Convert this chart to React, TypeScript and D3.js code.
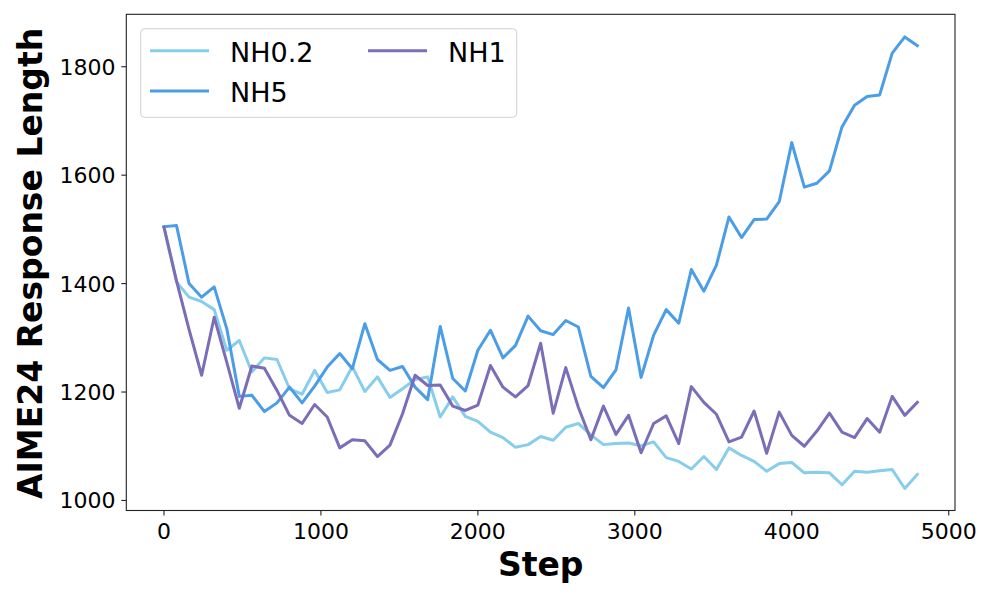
import React from "react";
import * as d3 from "d3";

const steps = [
  0, 80, 160, 240, 320, 400, 480, 560, 640, 720, 800, 880, 960, 1040, 1120, 1200,
  1280, 1360, 1440, 1520, 1600, 1680, 1760, 1840, 1920, 2000, 2080, 2160, 2240, 2320,
  2400, 2480, 2560, 2640, 2720, 2800, 2880, 2960, 3040, 3120, 3200, 3280, 3360, 3440,
  3520, 3600, 3680, 3760, 3840, 3920, 4000, 4080, 4160, 4240, 4320, 4400, 4480, 4560,
  4640, 4720, 4800,
];

const nh02 = [
  1504, 1403, 1375, 1367, 1352, 1277, 1295, 1237, 1263, 1260, 1206, 1196, 1240, 1199,
  1204, 1247, 1201, 1228, 1190, 1206, 1223, 1228, 1154, 1191, 1155, 1146, 1126, 1116,
  1098, 1103, 1118, 1111, 1135, 1142, 1121, 1103, 1105, 1106, 1101, 1108, 1079, 1072,
  1058, 1081, 1057, 1097, 1083, 1072, 1054, 1068, 1070, 1051, 1052, 1051, 1029, 1054,
  1052, 1055, 1057, 1022, 1048,
];

const nh5 = [
  1505, 1507, 1400, 1375, 1394, 1317, 1192, 1194, 1164, 1180, 1209, 1180, 1211, 1246,
  1271, 1243, 1326, 1260, 1240, 1247, 1209, 1186, 1321, 1225, 1202, 1277, 1314, 1263,
  1286, 1340, 1313, 1306, 1332, 1320, 1229, 1208, 1241, 1355, 1227, 1305, 1352, 1327,
  1426, 1386, 1434, 1523, 1485, 1518, 1519, 1551, 1660, 1578, 1585, 1608, 1689, 1729,
  1745, 1748, 1825, 1855, 1839,
];

const nh1 = [
  1504, 1405, 1315, 1231, 1338, 1255, 1170, 1248, 1244, 1203, 1157, 1142, 1177, 1154,
  1097, 1112, 1110, 1081, 1102, 1160, 1231, 1212, 1213, 1174, 1166, 1176, 1249, 1209,
  1191, 1212, 1290, 1161, 1245, 1172, 1112, 1174, 1122, 1157, 1088, 1142, 1156, 1105,
  1210, 1181, 1159, 1108, 1117, 1165, 1087, 1163, 1120, 1100, 1128, 1161, 1126, 1116,
  1151, 1126, 1192, 1157, 1181,
];

const xTicks = [0, 1000, 2000, 3000, 4000, 5000];
const yTicks = [1000, 1200, 1400, 1600, 1800];

const seriesNames = ["NH0.2", "NH5", "NH1"];
const seriesColors = ["#87ceeb", "#4a9de6", "#7b6db7"];
const seriesValues = [nh02, nh5, nh1];

const W = 996;
const H = 598;
const FONT = "'DejaVu Sans', sans-serif";

export default function App() {
  const left = 126.3;
  const right = 955;
  const top = 14.3;
  const bottom = 510.5;

  const x = d3.scaleLinear().domain([-240, 5040]).range([left, right]);
  const y = d3.scaleLinear().domain([981.5, 1896.7]).range([bottom, top]);

  const line = d3
    .line<number>()
    .x((_, i) => x(steps[i]))
    .y((d) => y(d));

  const legendItems = [
    { col: 0, row: 0, idx: 0 },
    { col: 0, row: 1, idx: 1 },
    { col: 1, row: 0, idx: 2 },
  ];
  const legX = 140.7;
  const legY = 28.7;
  const colX = [150, 368];
  const rowY = [50.7, 91];

  return (
    <svg
      width={W}
      height={H}
      style={{ position: "absolute", left: 0, top: 0, background: "#fff" }}
      fontFamily={FONT}
    >
      <rect x={0} y={0} width={W} height={H} fill="#fff" />
      <defs>
        <clipPath id="plotclip">
          <rect x={left} y={top} width={right - left} height={bottom - top} />
        </clipPath>
      </defs>

      {/* series */}
      <g clipPath="url(#plotclip)">
        {seriesValues.map((vals, k) => (
          <path
            key={seriesNames[k]}
            d={line(vals) || ""}
            fill="none"
            stroke={seriesColors[k]}
            strokeWidth={3}
            strokeLinejoin="round"
            strokeLinecap="square"
          />
        ))}
      </g>

      {/* frame */}
      <rect
        x={left}
        y={top}
        width={right - left}
        height={bottom - top}
        fill="none"
        stroke="#222"
        strokeWidth={1.1}
      />

      {/* x ticks */}
      {xTicks.map((t) => (
        <g key={"x" + t}>
          <line x1={x(t)} x2={x(t)} y1={bottom} y2={bottom + 5} stroke="#222" strokeWidth={1.1} />
          <text x={x(t)} y={539} fontSize={22} textAnchor="middle" fill="#000">
            {t}
          </text>
        </g>
      ))}

      {/* y ticks */}
      {yTicks.map((t) => (
        <g key={"y" + t}>
          <line x1={left - 5} x2={left} y1={y(t)} y2={y(t)} stroke="#222" strokeWidth={1.1} />
          <text x={115.5} y={y(t) + 8} fontSize={22} textAnchor="end" fill="#000">
            {t}
          </text>
        </g>
      ))}

      {/* axis labels */}
      <text
        x={(left + right) / 2}
        y={576}
        fontSize={33}
        fontWeight="bold"
        textAnchor="middle"
        fill="#000"
      >
        Step
      </text>
      <text
        transform={`translate(41.5, ${(top + bottom) / 2 + 1}) rotate(-90)`}
        fontSize={33}
        fontWeight="bold"
        textAnchor="middle"
        fill="#000"
      >
        AIME24 Response Length
      </text>

      {/* legend */}
      <rect
        x={legX}
        y={legY}
        width={376}
        height={88.6}
        rx={4}
        ry={4}
        fill="#fff"
        fillOpacity={0.8}
        stroke="#d0d0d0"
        strokeWidth={1}
      />
      {legendItems.map((it) => (
        <g key={"leg" + it.idx}>
          <line
            x1={colX[it.col]}
            x2={colX[it.col] + 59}
            y1={rowY[it.row]}
            y2={rowY[it.row]}
            stroke={seriesColors[it.idx]}
            strokeWidth={3}
          />
          <text x={colX[it.col] + 80} y={rowY[it.row] + 11} fontSize={27} fill="#000">
            {seriesNames[it.idx]}
          </text>
        </g>
      ))}
    </svg>
  );
}
